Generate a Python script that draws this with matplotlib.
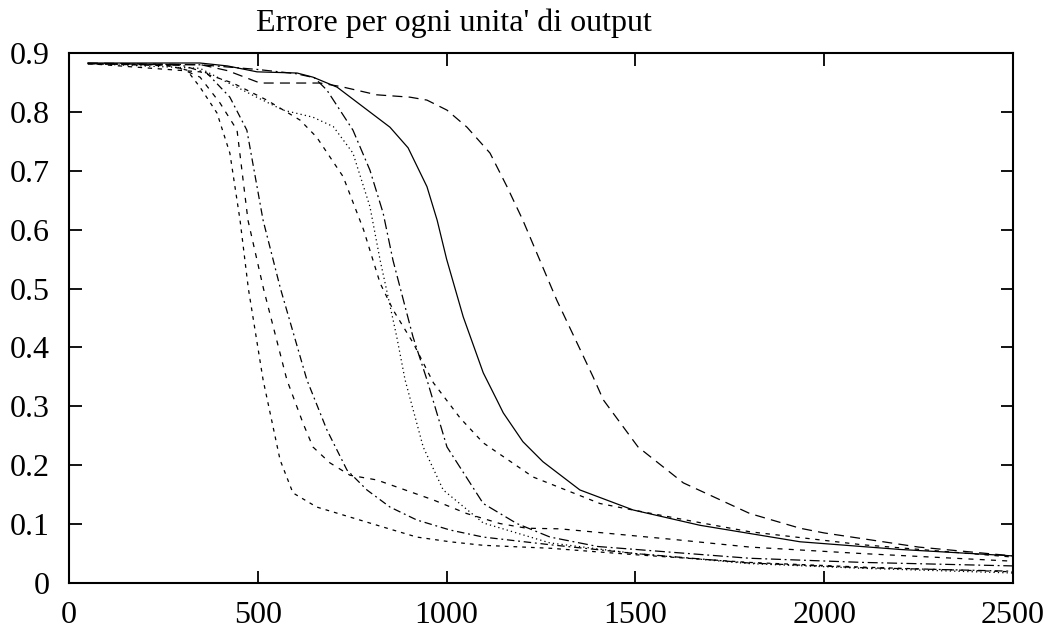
import matplotlib
matplotlib.use("Agg")
import matplotlib.pyplot as plt
import numpy as np

plt.rcParams['font.family'] = ['Liberation Serif', 'DejaVu Serif']

# iterations / error values, one pair of lists per curve
solid_x = [50, 347, 420, 498, 604, 646, 710, 850, 898, 948, 975, 1000, 1044, 1097, 1133, 1150, 1202, 1255, 1353, 1494, 1671, 1936, 2200, 2500]
solid_y = [0.883, 0.883, 0.878, 0.868, 0.866, 0.859, 0.842, 0.774, 0.739, 0.673, 0.616, 0.55, 0.452, 0.357, 0.311, 0.289, 0.24, 0.206, 0.158, 0.124, 0.098, 0.07, 0.057, 0.046]

ldash_x = [50, 350, 420, 506, 600, 665, 720, 815, 903, 948, 1001, 1054, 1115, 1160, 1202, 1292, 1388, 1415, 1507, 1627, 1803, 1936, 2000, 2250, 2500]
ldash_y = [0.883, 0.88, 0.87, 0.849, 0.849, 0.849, 0.843, 0.829, 0.825, 0.82, 0.803, 0.774, 0.73, 0.673, 0.616, 0.48, 0.35, 0.311, 0.231, 0.17, 0.118, 0.093, 0.085, 0.061, 0.046]

a_x = [50, 250, 312, 347, 392, 426, 453, 475, 514, 559, 593, 656, 744, 832, 921, 1009, 1097, 1274, 1500, 1800, 2100, 2500]
a_y = [0.882, 0.88, 0.871, 0.842, 0.798, 0.73, 0.616, 0.5, 0.345, 0.209, 0.153, 0.129, 0.112, 0.095, 0.078, 0.07, 0.064, 0.059, 0.048, 0.035, 0.027, 0.019]

b_x = [50, 280, 347, 400, 445, 474, 515, 577, 620, 646, 691, 744, 815, 877, 965, 1053, 1141, 1212, 1300, 1400, 1600, 1803, 2100, 2500]
b_y = [0.882, 0.878, 0.859, 0.815, 0.769, 0.616, 0.5, 0.345, 0.271, 0.231, 0.204, 0.183, 0.175, 0.161, 0.141, 0.118, 0.101, 0.093, 0.092, 0.086, 0.074, 0.061, 0.05, 0.037]

c_x = [50, 300, 365, 426, 471, 514, 560, 630, 683, 736, 789, 850, 921, 1009, 1097, 1274, 1500, 1800, 2100, 2500]
c_y = [0.882, 0.879, 0.866, 0.825, 0.769, 0.616, 0.5, 0.345, 0.26, 0.192, 0.158, 0.129, 0.107, 0.09, 0.078, 0.065, 0.05, 0.034, 0.026, 0.02]

d_x = [50, 350, 500, 600, 650, 683, 752, 797, 832, 858, 911, 948, 1001, 1097, 1186, 1274, 1400, 1600, 1803, 2100, 2500]
d_y = [0.882, 0.88, 0.872, 0.865, 0.858, 0.837, 0.769, 0.701, 0.628, 0.548, 0.418, 0.345, 0.231, 0.135, 0.101, 0.078, 0.062, 0.052, 0.042, 0.035, 0.029]

e_x = [50, 347, 434, 524, 612, 656, 726, 780, 824, 859, 912, 965, 1036, 1097, 1229, 1406, 1477, 1650, 1803, 2100, 2500]
e_y = [0.882, 0.868, 0.849, 0.82, 0.786, 0.757, 0.69, 0.6, 0.509, 0.463, 0.407, 0.34, 0.28, 0.238, 0.18, 0.135, 0.126, 0.105, 0.087, 0.065, 0.044]

f_x = [50, 347, 420, 497, 567, 646, 700, 752, 797, 824, 868, 890, 938, 991, 1097, 1274, 1500, 1800, 2100, 2500]
f_y = [0.882, 0.874, 0.85, 0.825, 0.803, 0.791, 0.775, 0.73, 0.639, 0.548, 0.418, 0.345, 0.231, 0.158, 0.102, 0.068, 0.05, 0.033, 0.025, 0.017]

x_ticks = [0, 500, 1000, 1500, 2000, 2500]
y_ticks = [0, 0.1, 0.2, 0.3, 0.4, 0.5, 0.6, 0.7, 0.8, 0.9]
y_labels = ['0', '0.1', '0.2', '0.3', '0.4', '0.5', '0.6', '0.7', '0.8', '0.9']

fig = plt.figure(figsize=(10.5, 6.31), dpi=100)
ax = fig.add_axes([69/1050, 1-583/631, (1013-69)/1050, (583-53)/631])

lw = 0.9
ax.plot(solid_x, solid_y, color='black', lw=lw, ls='-')
ax.plot(ldash_x, ldash_y, color='black', lw=lw, ls=(0, (8, 5)))
ax.plot(a_x, a_y, color='black', lw=lw, ls=(0, (3, 4)))
ax.plot(b_x, b_y, color='black', lw=lw, ls=(0, (4, 5)))
ax.plot(c_x, c_y, color='black', lw=lw, ls=(0, (6, 3, 1.5, 3)))
ax.plot(d_x, d_y, color='black', lw=lw, ls=(0, (8, 3, 1.5, 3)))
ax.plot(e_x, e_y, color='black', lw=lw, ls=(0, (3.5, 4.5)))
ax.plot(f_x, f_y, color='black', lw=lw, ls=(0, (1, 2.5)))

ax.set_xlim(0, 2500)
ax.set_ylim(0, 0.9)
ax.set_xticks(x_ticks)
ax.set_yticks(y_ticks)
ax.set_yticklabels(y_labels)
ax.tick_params(direction='in', length=9, width=1.3, top=True, right=True,
               labelsize=23, pad=14)
ax.tick_params(axis='x', pad=13)
for s in ax.spines.values():
    s.set_linewidth(1.5)

fig.text(454/1050, 1-23/631, "Errore per ogni unita' di output",
         ha='center', va='center', fontsize=23)

fig.savefig('out.png', dpi=100)
